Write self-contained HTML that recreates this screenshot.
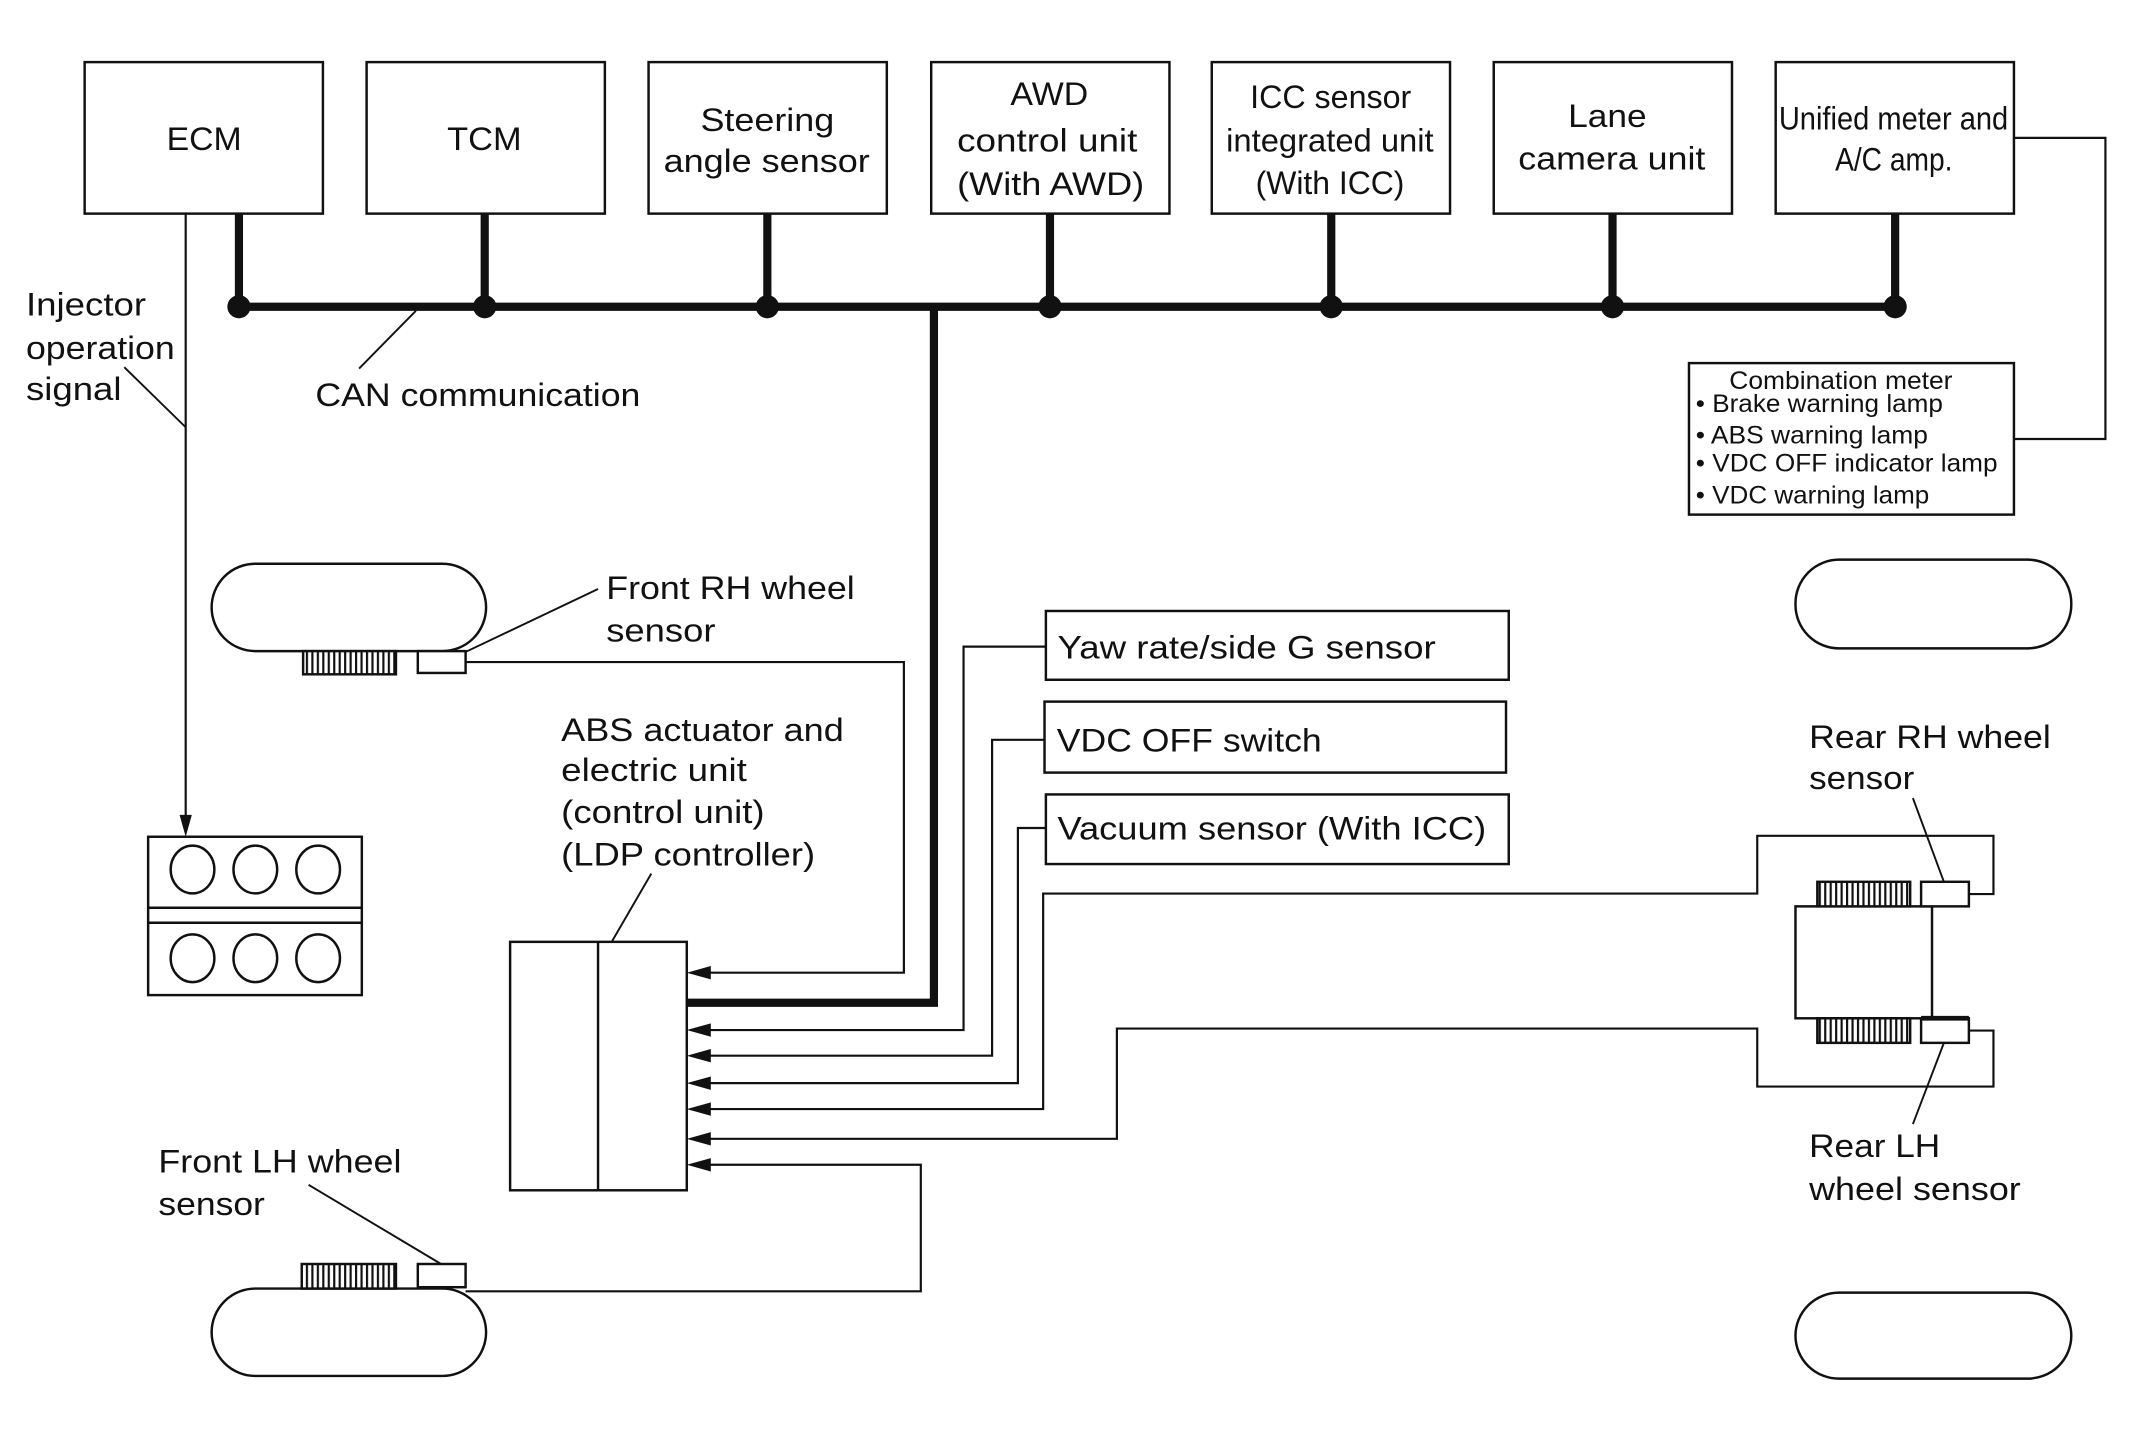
<!DOCTYPE html>
<html><head><meta charset="utf-8"><style>
html,body{margin:0;padding:0;background:#fff;}
svg{display:block;}
text{font-family:"Liberation Sans",Arial,sans-serif;fill:#111;}
</style></head><body>
<svg width="2130" height="1445" viewBox="0 0 1560 1058.6" preserveAspectRatio="none" xmlns="http://www.w3.org/2000/svg">
<defs>
<pattern id="hatch" width="4" height="20" patternUnits="userSpaceOnUse">
<rect width="4" height="20" fill="#fff"/><rect x="0" width="1.6" height="20" fill="#111"/>
</pattern>
</defs>
<g fill="none" stroke="#111" stroke-width="1.8">
<!-- top boxes -->
<rect x="62" y="45.5" width="174.5" height="111"/>
<rect x="268.5" y="45.5" width="174.5" height="111"/>
<rect x="475" y="45.5" width="174.5" height="111"/>
<rect x="682" y="45.5" width="174.5" height="111"/>
<rect x="887.5" y="45.5" width="174.5" height="111"/>
<rect x="1094" y="45.5" width="174.5" height="111"/>
<rect x="1300.5" y="45.5" width="174.5" height="111"/>
<!-- combination meter -->
<rect x="1237" y="266" width="238" height="111"/>
<polyline points="1475,101 1542,101 1542,321.6 1475,321.6" stroke-width="1.6"/>
<!-- ECM injector line -->
<line x1="136" y1="156.5" x2="136" y2="600" stroke-width="1.6"/>
<line x1="91" y1="269" x2="136" y2="313" stroke-width="1.4"/>
<line x1="304.6" y1="227.7" x2="263" y2="270" stroke-width="1.4"/>
<!-- engine block -->
<rect x="108.5" y="613" width="156.5" height="116"/>
<line x1="108.5" y1="665" x2="265" y2="665"/>
<line x1="108.5" y1="676" x2="265" y2="676"/>
<ellipse cx="141" cy="637" rx="16" ry="17.5"/>
<ellipse cx="187" cy="637" rx="16" ry="17.5"/>
<ellipse cx="233" cy="637" rx="16" ry="17.5"/>
<ellipse cx="141" cy="702" rx="16" ry="17.5"/>
<ellipse cx="187" cy="702" rx="16" ry="17.5"/>
<ellipse cx="233" cy="702" rx="16" ry="17.5"/>
<!-- wheels -->
<rect x="155" y="413" width="201" height="64" rx="32" ry="32"/>
<rect x="155" y="944" width="201" height="64" rx="32" ry="32"/>
<rect x="1315" y="410" width="202" height="65" rx="32" ry="32"/>
<rect x="1315" y="947" width="202" height="63" rx="32" ry="32"/>
<!-- front RH sensor -->
<rect x="222" y="477" width="68" height="17" fill="url(#hatch)"/>
<rect x="306" y="477" width="35" height="16" fill="#fff"/>
<line x1="438" y1="431.5" x2="341" y2="477.6" stroke-width="1.4"/>
<polyline points="341,485 662,485 662,712.6 520,712.6" stroke-width="1.6"/>
<!-- front LH sensor -->
<rect x="221" y="926" width="69" height="18" fill="url(#hatch)"/>
<rect x="306" y="926" width="35" height="17" fill="#fff"/>
<line x1="226" y1="868" x2="323" y2="926" stroke-width="1.4"/>
<polyline points="341,946 674.4,946 674.4,853.3 520,853.3" stroke-width="1.6"/>
<!-- ABS box -->
<rect x="373.6" y="690" width="129.4" height="182"/>
<line x1="438" y1="690" x2="438" y2="872"/>
<line x1="477" y1="640" x2="448" y2="690" stroke-width="1.4"/>
<!-- sensor boxes -->
<rect x="766" y="447.6" width="339" height="50.4"/>
<rect x="765" y="514" width="338" height="52"/>
<rect x="766" y="582" width="339" height="51"/>
<polyline points="766,473.7 705.7,473.7 705.7,754.6 520,754.6" stroke-width="1.6"/>
<polyline points="765,542 726.6,542 726.6,773.4 520,773.4" stroke-width="1.6"/>
<polyline points="766,606.6 745.5,606.6 745.5,793.5 520,793.5" stroke-width="1.6"/>
<polyline points="1407,655 1460,655 1460,612.3 1287,612.3 1287,654.6 764,654.6 764,812.5 520,812.5" stroke-width="1.6"/>
<polyline points="1442,755 1460,755 1460,796 1287,796 1287,753.5 818,753.5 818,834.3 520,834.3" stroke-width="1.6"/>
<!-- rear axle -->
<rect x="1315" y="664" width="100" height="82"/>
<rect x="1331" y="646" width="68" height="18" fill="url(#hatch)"/>
<rect x="1331" y="746" width="68" height="18" fill="url(#hatch)"/>
<rect x="1407" y="646" width="35" height="18" fill="#fff"/>
<rect x="1407" y="746" width="35" height="18" fill="#fff"/>
<line x1="1407" y1="746" x2="1442" y2="746" stroke-width="3.5"/>
<line x1="1401" y1="584.7" x2="1423.7" y2="646" stroke-width="1.4"/>
<line x1="1423.7" y1="764" x2="1401" y2="823.5" stroke-width="1.4"/>
</g>
<!-- CAN bus -->
<g stroke="#111" stroke-width="6" fill="none">
<line x1="175" y1="224.7" x2="1388" y2="224.7"/>
<line x1="175" y1="156" x2="175" y2="224.7"/>
<line x1="355" y1="156" x2="355" y2="224.7"/>
<line x1="562" y1="156" x2="562" y2="224.7"/>
<line x1="769" y1="156" x2="769" y2="224.7"/>
<line x1="975" y1="156" x2="975" y2="224.7"/>
<line x1="1181" y1="156" x2="1181" y2="224.7"/>
<line x1="1388" y1="156" x2="1388" y2="224.7"/>
<polyline points="684,224.7 684,734.6 503,734.6"/>
</g>
<g fill="#111">
<circle cx="175" cy="224.7" r="8.5"/><circle cx="355" cy="224.7" r="8.5"/>
<circle cx="562" cy="224.7" r="8.5"/><circle cx="769" cy="224.7" r="8.5"/>
<circle cx="975" cy="224.7" r="8.5"/><circle cx="1181" cy="224.7" r="8.5"/>
<circle cx="1388" cy="224.7" r="8.5"/>
<polygon points="136,613 131.5,597 140.5,597"/>
<polygon points="503,712.6 520.6,707.7 520.6,717.5"/>
<polygon points="503,754.6 520.6,749.7 520.6,759.5"/>
<polygon points="503,773.4 520.6,768.5 520.6,778.3"/>
<polygon points="503,793.5 520.6,788.6 520.6,798.4"/>
<polygon points="503,812.5 520.6,807.6 520.6,817.4"/>
<polygon points="503,834.3 520.6,829.4 520.6,839.2"/>
<polygon points="503,853.3 520.6,848.4 520.6,858.2"/>
</g>
<!-- texts -->
<g font-size="24" lengthAdjust="spacingAndGlyphs">
<text x="122" y="110" textLength="55" lengthAdjust="spacingAndGlyphs">ECM</text>
<text x="327.5" y="110" textLength="54.5" lengthAdjust="spacingAndGlyphs">TCM</text>
<text x="513" y="96" textLength="98" lengthAdjust="spacingAndGlyphs">Steering</text>
<text x="486" y="126" textLength="151" lengthAdjust="spacingAndGlyphs">angle sensor</text>
<text x="740" y="77" textLength="57" lengthAdjust="spacingAndGlyphs">AWD</text>
<text x="701" y="111" textLength="132" lengthAdjust="spacingAndGlyphs">control unit</text>
<text x="701" y="143" textLength="137" lengthAdjust="spacingAndGlyphs">(With AWD)</text>
<text x="915.6" y="79" textLength="118" lengthAdjust="spacingAndGlyphs">ICC sensor</text>
<text x="898" y="111" textLength="152" lengthAdjust="spacingAndGlyphs">integrated unit</text>
<text x="919.6" y="142" textLength="109" lengthAdjust="spacingAndGlyphs">(With ICC)</text>
<text x="1148.5" y="93" textLength="57.5" lengthAdjust="spacingAndGlyphs">Lane</text>
<text x="1112" y="124" textLength="137" lengthAdjust="spacingAndGlyphs">camera unit</text>
<text x="1302.8" y="95" textLength="168" lengthAdjust="spacingAndGlyphs">Unified meter and</text>
<text x="1344" y="125" textLength="86" lengthAdjust="spacingAndGlyphs">A/C amp.</text>
<text x="19" y="231" textLength="88" lengthAdjust="spacingAndGlyphs">Injector</text>
<text x="19" y="263" textLength="109" lengthAdjust="spacingAndGlyphs">operation</text>
<text x="19" y="293" textLength="70" lengthAdjust="spacingAndGlyphs">signal</text>
<text x="231" y="297.5" textLength="238" lengthAdjust="spacingAndGlyphs">CAN communication</text>
<text x="444" y="439" textLength="182" lengthAdjust="spacingAndGlyphs">Front RH wheel</text>
<text x="444" y="470" textLength="80" lengthAdjust="spacingAndGlyphs">sensor</text>
<text x="411" y="543" textLength="207" lengthAdjust="spacingAndGlyphs">ABS actuator and</text>
<text x="411" y="572" textLength="136" lengthAdjust="spacingAndGlyphs">electric unit</text>
<text x="411" y="603" textLength="149" lengthAdjust="spacingAndGlyphs">(control unit)</text>
<text x="411" y="634" textLength="186" lengthAdjust="spacingAndGlyphs">(LDP controller)</text>
<text x="116" y="859" textLength="178" lengthAdjust="spacingAndGlyphs">Front LH wheel</text>
<text x="116" y="890" textLength="78" lengthAdjust="spacingAndGlyphs">sensor</text>
<text x="774.5" y="482.5" textLength="277" lengthAdjust="spacingAndGlyphs">Yaw rate/side G sensor</text>
<text x="774" y="550.5" textLength="194" lengthAdjust="spacingAndGlyphs">VDC OFF switch</text>
<text x="774.5" y="615" textLength="314" lengthAdjust="spacingAndGlyphs">Vacuum sensor (With ICC)</text>
<text x="1325" y="548" textLength="177" lengthAdjust="spacingAndGlyphs">Rear RH wheel</text>
<text x="1325" y="578" textLength="77" lengthAdjust="spacingAndGlyphs">sensor</text>
<text x="1325" y="847.5" textLength="96" lengthAdjust="spacingAndGlyphs">Rear LH</text>
<text x="1325" y="879" textLength="155" lengthAdjust="spacingAndGlyphs">wheel sensor</text>
</g>
<g font-size="18.5">
<text x="1266.5" y="285" textLength="163.5" lengthAdjust="spacingAndGlyphs">Combination meter</text>
<text x="1242" y="302" textLength="181" lengthAdjust="spacingAndGlyphs">• Brake warning lamp</text>
<text x="1242" y="325" textLength="170" lengthAdjust="spacingAndGlyphs">• ABS warning lamp</text>
<text x="1242" y="345.5" textLength="221" lengthAdjust="spacingAndGlyphs">• VDC OFF indicator lamp</text>
<text x="1242" y="369" textLength="171" lengthAdjust="spacingAndGlyphs">• VDC warning lamp</text>
</g>
</svg>
</body></html>
